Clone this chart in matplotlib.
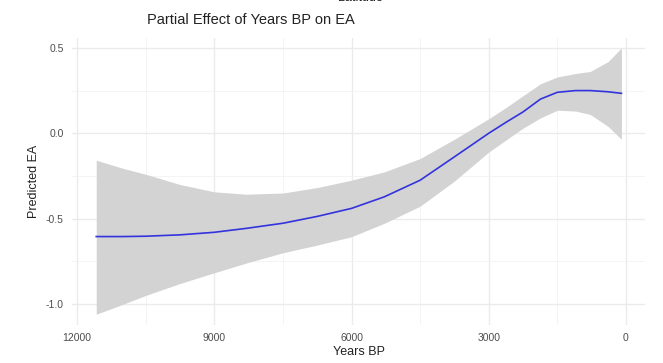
import matplotlib
matplotlib.use("Agg")
import matplotlib.pyplot as plt

plt.rcParams['font.family'] = ['Liberation Sans', 'DejaVu Sans']

# values
years_bp = [11580, 11000, 10500, 9750, 9000, 8300, 7500, 6750, 6000, 5280, 4500,
            3750, 3000, 2600, 2250, 1870, 1500, 1100, 780, 390, 100]
fit = [-0.605, -0.605, -0.603, -0.595, -0.580, -0.557, -0.527, -0.487, -0.440, -0.372, -0.275,
       -0.138, 0.000, 0.068, 0.125, 0.200, 0.240, 0.250, 0.250, 0.243, 0.234]
upper = [-0.158, -0.205, -0.240, -0.300, -0.343, -0.357, -0.350, -0.318, -0.275, -0.226, -0.148,
         -0.035, 0.085, 0.155, 0.220, 0.290, 0.330, 0.350, 0.362, 0.420, 0.500]
lower = [-1.060, -1.002, -0.950, -0.880, -0.817, -0.760, -0.700, -0.655, -0.606, -0.527, -0.427,
         -0.280, -0.110, -0.035, 0.030, 0.090, 0.135, 0.130, 0.110, 0.040, -0.035]

fig = plt.figure(figsize=(6.63, 3.63), dpi=100)
ax = fig.add_axes([72 / 663, 38 / 363, 573 / 663, 287 / 363])

ax.fill_between(years_bp, lower, upper, color='#d3d3d3', linewidth=0, zorder=2)
ax.plot(years_bp, fit, color='#3333dd', linewidth=1.2, zorder=3)

ax.set_xlim(12110, -416)
ax.set_ylim(-1.123, 0.558)
ax.set_xticks([12000, 9000, 6000, 3000, 0])
ax.set_xticks([10500, 7500, 4500, 1500], minor=True)
ax.set_yticks([-1.0, -0.5, 0.0, 0.5])
ax.set_yticks([-0.75, -0.25, 0.25], minor=True)
ax.set_yticklabels(['-1.0', '-0.5', '0.0', '0.5'])

ax.grid(which='major', color='#ebebeb', linewidth=1.0, zorder=0)
ax.grid(which='minor', color='#f2f2f2', linewidth=0.6, zorder=0)
ax.set_axisbelow(True)
for s in ax.spines.values():
    s.set_visible(False)
ax.tick_params(which='both', length=0, labelsize=7.5, labelcolor='#4d4d4d', pad=6)

ax.set_xlabel('Years BP', fontsize=9, color='#222222', labelpad=2)
ax.set_ylabel('Predicted EA', fontsize=9, color='#222222', labelpad=4)
fig.text(147 / 663, 1 - 20 / 363, 'Partial Effect of Years BP on EA', fontsize=10.5,
         color='#222222', ha='left', va='center')
# label of the panel above, cut off by the top edge as in the reference
fig.text(360 / 663, 1 + 2 / 363, 'Latitude', fontsize=9, color='#222222',
         ha='center', va='center')

fig.savefig('out.png', dpi=100)
